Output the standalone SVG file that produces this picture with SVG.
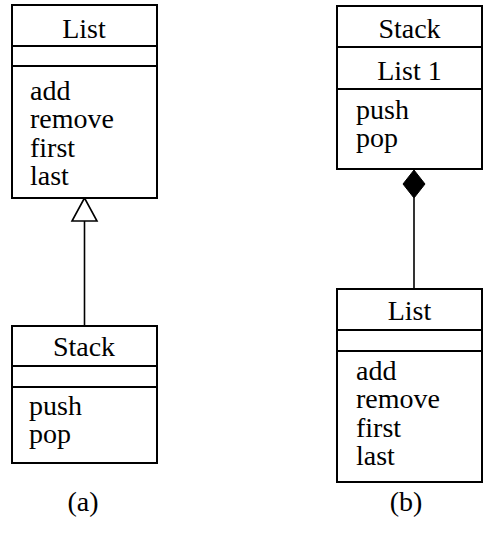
<svg xmlns="http://www.w3.org/2000/svg" width="491" height="533" viewBox="0 0 491 533">
<style>
.box{fill:#fff;stroke:#000;stroke-width:2}
.sep{stroke:#000;stroke-width:2}
text{font-family:'Liberation Serif','Times New Roman',Tinos,'DejaVu Serif',serif;font-size:28px;fill:#000}
.c{text-anchor:middle}
.edge{stroke:#000;stroke-width:1.6;fill:none}
</style>
<g id="connectors">
<line class="edge" x1="84.5" y1="221" x2="84.5" y2="326"/>
<polygon points="84.5,198 72,221 97,221" fill="#fff" stroke="#000" stroke-width="1.6"/>
<line class="edge" x1="414" y1="198" x2="414" y2="289"/>
<polygon points="414,170 403,184 414,198 425,184" fill="#000" stroke="#000" stroke-width="1"/>
</g>
<g id="list-a" font-family="Liberation Serif, serif">
<rect class="box" x="12" y="5" width="145" height="193"/>
<line class="sep" x1="12" y1="46" x2="157" y2="46"/>
<line class="sep" x1="12" y1="66" x2="157" y2="66"/>
<text class="c" x="84" y="38">List</text>
<text x="30" y="100">add</text>
<text x="30" y="128">remove</text>
<text x="30" y="157">first</text>
<text x="30" y="185">last</text>
</g>
<g id="stack-a">
<rect class="box" x="12" y="326" width="145" height="137"/>
<line class="sep" x1="12" y1="366" x2="157" y2="366"/>
<line class="sep" x1="12" y1="387" x2="157" y2="387"/>
<text class="c" x="84" y="356">Stack</text>
<text x="29" y="415">push</text>
<text x="29" y="443">pop</text>
</g>
<g id="stack-b">
<rect class="box" x="337" y="6" width="145" height="163"/>
<line class="sep" x1="337" y1="47" x2="482" y2="47"/>
<line class="sep" x1="337" y1="89" x2="482" y2="89"/>
<text class="c" x="409.5" y="38">Stack</text>
<text class="c" x="409.5" y="80">List 1</text>
<text x="356" y="119">push</text>
<text x="356" y="147">pop</text>
</g>
<g id="list-b">
<rect class="box" x="337" y="289" width="145" height="193"/>
<line class="sep" x1="337" y1="330" x2="482" y2="330"/>
<line class="sep" x1="337" y1="351" x2="482" y2="351"/>
<text class="c" x="409.5" y="320">List</text>
<text x="356" y="380">add</text>
<text x="356" y="408">remove</text>
<text x="356" y="437">first</text>
<text x="356" y="465">last</text>
</g>
<g id="captions">
<text class="c" x="83" y="511">(a)</text>
<text class="c" x="406" y="511">(b)</text>
</g>
</svg>
